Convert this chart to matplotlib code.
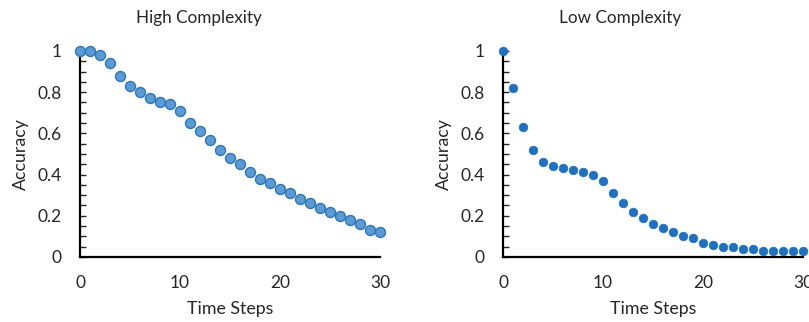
import matplotlib

matplotlib.use("Agg")
import matplotlib.pyplot as plt
from matplotlib.ticker import MultipleLocator

plt.rcParams["font.family"] = ["Lato", "DejaVu Sans"]

time_steps = list(range(31))
high_complexity = [
    1.00, 1.00, 0.98, 0.94, 0.88, 0.83, 0.80, 0.77, 0.75, 0.74, 0.71,
    0.65, 0.61, 0.57, 0.52, 0.48, 0.45, 0.41, 0.38, 0.36, 0.33,
    0.31, 0.28, 0.26, 0.24, 0.22, 0.20, 0.18, 0.16, 0.13, 0.12,
]
low_complexity = [
    1.00, 0.82, 0.63, 0.52, 0.46, 0.44, 0.43, 0.42, 0.41, 0.40, 0.37,
    0.31, 0.26, 0.22, 0.19, 0.16, 0.14, 0.12, 0.10, 0.09, 0.07,
    0.06, 0.05, 0.05, 0.04, 0.04, 0.03, 0.03, 0.03, 0.03, 0.03,
]
y_ticks = [0, 0.2, 0.4, 0.6, 0.8, 1]
y_tick_labels = ["0", "0.2", "0.4", "0.6", "0.8", "1"]
x_ticks = [0, 10, 20, 30]

TEXT = "#262626"


def style_axes(ax):
    ax.set_xlim(0, 30)
    ax.set_ylim(0, 1)
    ax.set_xticks(x_ticks)
    ax.set_yticks(y_ticks)
    ax.set_yticklabels(y_tick_labels)
    ax.yaxis.set_minor_locator(MultipleLocator(0.05))
    for side in ("top", "right"):
        ax.spines[side].set_visible(False)
    for side in ("left", "bottom"):
        ax.spines[side].set_linewidth(1.6)
        ax.spines[side].set_color("black")
    ax.tick_params(axis="y", which="both", direction="in", length=4,
                   width=1, pad=13, labelsize=12.5, colors=TEXT)
    ax.tick_params(axis="x", which="both", length=0, pad=13,
                   labelsize=12.5, colors=TEXT)
    ax.set_xlabel("Time Steps", fontsize=12.8, color=TEXT, labelpad=7)
    ax.set_ylabel("Accuracy", fontsize=12.8, color=TEXT, labelpad=6)


fig = plt.figure(figsize=(8.09, 3.22), dpi=100)
ax1 = fig.add_axes([0.0989, 0.2019, 0.3708, 0.64])
ax2 = fig.add_axes([0.6218, 0.2019, 0.3708, 0.64])

ax1.plot(time_steps, high_complexity, linestyle="none", marker="o",
         markersize=7.2, markerfacecolor="#5B9BD5",
         markeredgecolor="#2E75B6", markeredgewidth=1.0, clip_on=False,
         zorder=3)
ax2.plot(time_steps, low_complexity, linestyle="none", marker="o",
         markersize=6.2, markerfacecolor="#1F70C1",
         markeredgecolor="#1F70C1", markeredgewidth=0.5, clip_on=False,
         zorder=3)

style_axes(ax1)
style_axes(ax2)

# chart titles sit over the whole chart area, not just the plot box
fig.text(198.5 / 809, 1 - 18 / 322, "High Complexity", ha="center",
         va="center", fontsize=12.3, color=TEXT)
fig.text(620 / 809, 1 - 18 / 322, "Low Complexity", ha="center",
         va="center", fontsize=12.3, color=TEXT)

fig.savefig("out.png", dpi=100)
